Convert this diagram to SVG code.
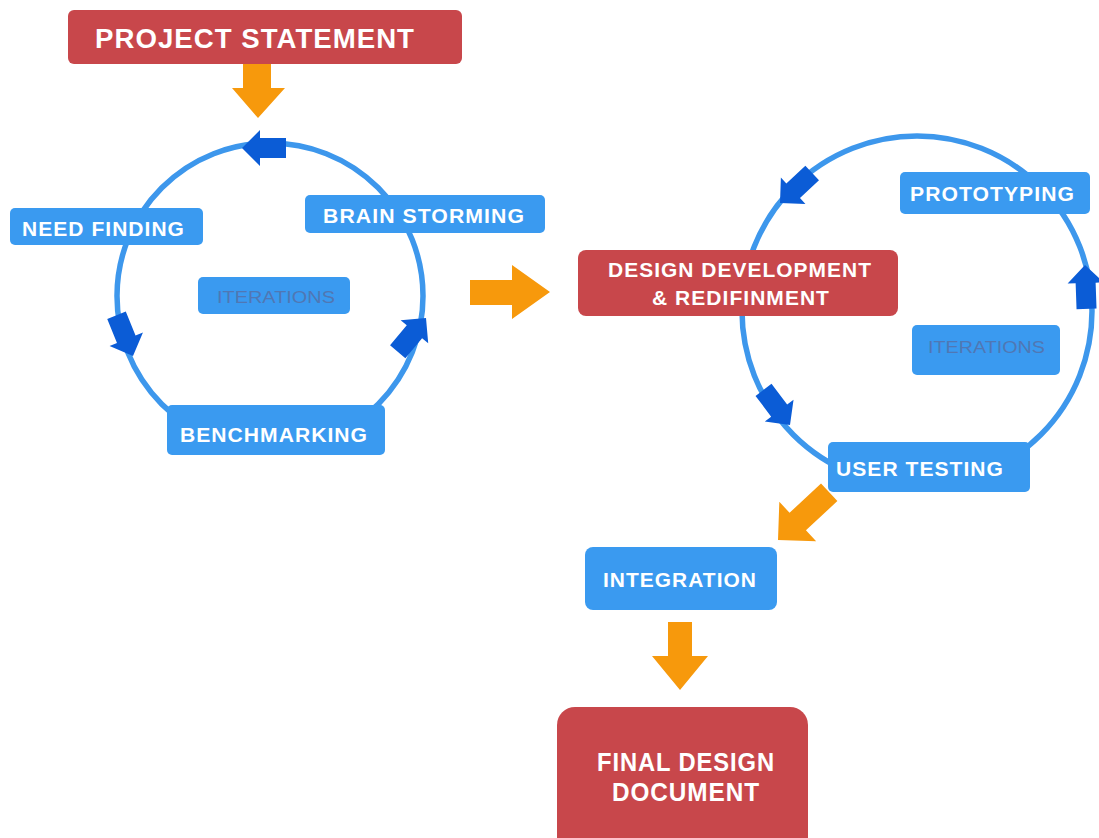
<svg xmlns="http://www.w3.org/2000/svg" width="1099" height="838" viewBox="0 0 1099 838">
<defs>
<style>
.red{fill:#c8474b}
.blue{fill:#3a9af0}
.ring{fill:none;stroke:#3d97ec;stroke-width:5.5}
.mini{fill:#0b5cd6}
.orange{fill:#f7990c}
.t{font-family:"Liberation Sans",Arial,sans-serif;font-weight:bold;fill:#ffffff;letter-spacing:1px}
.it{font-family:"Liberation Sans",Arial,sans-serif;fill:#5077b4;font-size:16px}
</style>
<polygon id="mini" points="-44,-10 -18,-10 -18,-18 0,0 -18,18 -18,10 -44,10"/>
</defs>
<rect width="1099" height="838" fill="#ffffff"/>
<g id="connectors">
<circle class="ring" cx="270" cy="296" r="153"/>
<circle class="ring" cx="917" cy="311" r="175"/>
<polygon class="orange" points="243,63 271,63 271,88 285,88 258,118 232,88 243,88"/>
<polygon class="orange" points="470,280 512,280 512,265 550,292 512,319 512,305 470,305"/>
<polygon class="orange" transform="translate(778,540) rotate(137)" points="-70,-12 -27,-12 -27,-27 0,0 -27,27 -27,12 -70,12"/>
<polygon class="orange" points="668,622 692,622 692,656 708,656 680,690 652,656 668,656"/>
</g>
<g id="project-statement">
<rect class="red" x="68" y="10" width="394" height="54" rx="6"/>
<text class="t" x="95" y="48" font-size="27" textLength="320" lengthAdjust="spacingAndGlyphs">PROJECT STATEMENT</text>
</g>
<g id="need-finding">
<rect class="blue" x="10" y="208" width="193" height="37" rx="5"/>
<text class="t" x="22" y="236" font-size="20" textLength="163" lengthAdjust="spacingAndGlyphs">NEED FINDING</text>
</g>
<g id="brain-storming">
<rect class="blue" x="305" y="195" width="240" height="38" rx="5"/>
<text class="t" x="323" y="223" font-size="20" textLength="202" lengthAdjust="spacingAndGlyphs">BRAIN STORMING</text>
</g>
<g id="iterations-left">
<rect class="blue" x="198" y="277" width="152" height="37" rx="5"/>
<text class="it" x="217" y="303" textLength="118" lengthAdjust="spacingAndGlyphs">ITERATIONS</text>
</g>
<g id="benchmarking">
<rect class="blue" x="167" y="405" width="218" height="50" rx="5"/>
<text class="t" x="180" y="442" font-size="21" textLength="188" lengthAdjust="spacingAndGlyphs">BENCHMARKING</text>
</g>
<g id="design-development">
<rect class="red" x="578" y="250" width="320" height="66" rx="8"/>
<text class="t" x="608" y="277" font-size="20" textLength="264" lengthAdjust="spacingAndGlyphs">DESIGN DEVELOPMENT</text>
<text class="t" x="652" y="305" font-size="20" textLength="178" lengthAdjust="spacingAndGlyphs">&amp; REDIFINMENT</text>
</g>
<g id="prototyping">
<rect class="blue" x="900" y="172" width="190" height="42" rx="5"/>
<text class="t" x="910" y="201" font-size="20" textLength="165" lengthAdjust="spacingAndGlyphs">PROTOTYPING</text>
</g>
<g id="iterations-right">
<rect class="blue" x="912" y="325" width="148" height="50" rx="5"/>
<text class="it" x="928" y="353" textLength="117" lengthAdjust="spacingAndGlyphs">ITERATIONS</text>
</g>
<g id="user-testing">
<rect class="blue" x="828" y="442" width="202" height="50" rx="5"/>
<text class="t" x="836" y="476" font-size="20" textLength="168" lengthAdjust="spacingAndGlyphs">USER TESTING</text>
</g>
<g id="integration">
<rect class="blue" x="585" y="547" width="192" height="63" rx="8"/>
<text class="t" x="603" y="587" font-size="20" textLength="154" lengthAdjust="spacingAndGlyphs">INTEGRATION</text>
</g>
<g id="final-design-document">
<rect class="red" x="557" y="707" width="251" height="150" rx="18"/>
<text class="t" x="597" y="771" font-size="26" textLength="178" lengthAdjust="spacingAndGlyphs">FINAL DESIGN</text>
<text class="t" x="612" y="801" font-size="26" textLength="148" lengthAdjust="spacingAndGlyphs">DOCUMENT</text>
</g>
<g id="cycle-arrows">
<use href="#mini" class="mini" transform="translate(242,148) rotate(180)"/>
<use href="#mini" class="mini" transform="translate(133,356) rotate(68)"/>
<use href="#mini" class="mini" transform="translate(426,318) rotate(-50)"/>
<use href="#mini" class="mini" transform="translate(780,203) rotate(137)"/>
<use href="#mini" class="mini" transform="translate(790,425) rotate(53)"/>
<use href="#mini" class="mini" transform="translate(1085,265) rotate(-92)"/>
</g>
</svg>
